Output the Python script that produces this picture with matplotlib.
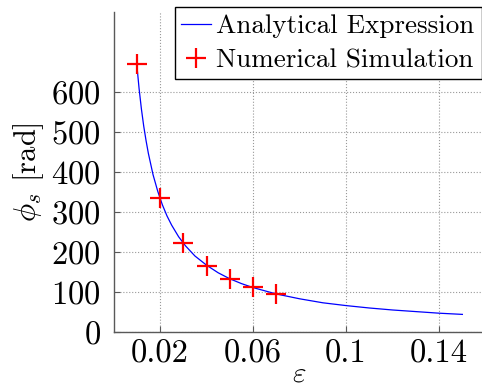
import matplotlib
matplotlib.use("Agg")
import matplotlib.pyplot as plt

# --- Datos ---
# curva analítica
eps_analitico = [0.010, 0.011, 0.012, 0.013, 0.014, 0.015, 0.017, 0.019, 0.021,
                 0.023, 0.025, 0.028, 0.031, 0.035, 0.040, 0.045, 0.050, 0.055,
                 0.060, 0.070, 0.080, 0.090, 0.100, 0.110, 0.120, 0.130, 0.140, 0.150]
phi_analitico = [670, 609, 558, 515, 479, 447, 394, 353, 319,
                 291, 268, 239, 216, 191, 168, 149, 134, 122,
                 112, 96, 84, 74, 67, 61, 56, 52, 48, 45]

# simulación numérica
eps_simulacion = [0.01, 0.02, 0.03, 0.04, 0.05, 0.06, 0.07]
phi_simulacion = [670, 335, 224, 166, 133, 113, 96]

xticks = [0.02, 0.06, 0.1, 0.14]
xtick_labels = ["0.02", "0.06", "0.1", "0.14"]
yticks = [0, 100, 200, 300, 400, 500, 600]

# --- Estilo ---
plt.rcParams["font.family"] = "serif"
plt.rcParams["font.serif"] = ["cmr10", "DejaVu Serif"]
plt.rcParams["mathtext.fontset"] = "cm"
plt.rcParams["axes.unicode_minus"] = False
plt.rcParams["axes.formatter.use_mathtext"] = True

fig = plt.figure(figsize=(4.82, 3.89), dpi=100)
ax = fig.add_axes([0.2355, 0.1455, 0.772, 0.823])

ax.plot(eps_analitico, phi_analitico, color="blue", linewidth=0.9,
        label="Analytical Expression")
ax.plot(eps_simulacion, phi_simulacion, linestyle="none", marker="+",
        color="red", markersize=15, markeredgewidth=1.6,
        label="Numerical Simulation")

ax.set_xlim(0, 0.16)
ax.set_ylim(0, 800)
ax.set_xticks(xticks)
ax.set_xticklabels(xtick_labels)
ax.set_yticks(yticks)

ax.tick_params(direction="in", length=4, labelsize=23.5, colors="0.35",
               labelcolor="black", top=False, right=False)
ax.tick_params(axis="y", pad=9)
ax.tick_params(axis="x", pad=5)
for lado in ["top", "right"]:
    ax.spines[lado].set_visible(False)
for lado in ["left", "bottom"]:
    ax.spines[lado].set_color("0.35")
    ax.spines[lado].set_linewidth(1.0)

ax.grid(True, linestyle=":", color="0.6", linewidth=0.8)

ax.set_xlabel(r"$\varepsilon$", fontsize=21, labelpad=-5)
ax.set_ylabel(r"$\phi_s$ [rad]", fontsize=22, labelpad=4)

leg = ax.legend(loc="upper right", bbox_to_anchor=(0.999, 0.981),
                bbox_transform=fig.transFigure, fontsize=19.5,
                fancybox=False, framealpha=1, edgecolor="black",
                handlelength=1.1, handletextpad=0.2, borderpad=0.25,
                labelspacing=0.38, borderaxespad=0)
leg.get_frame().set_linewidth(1.0)

fig.savefig("out.png", dpi=100)
